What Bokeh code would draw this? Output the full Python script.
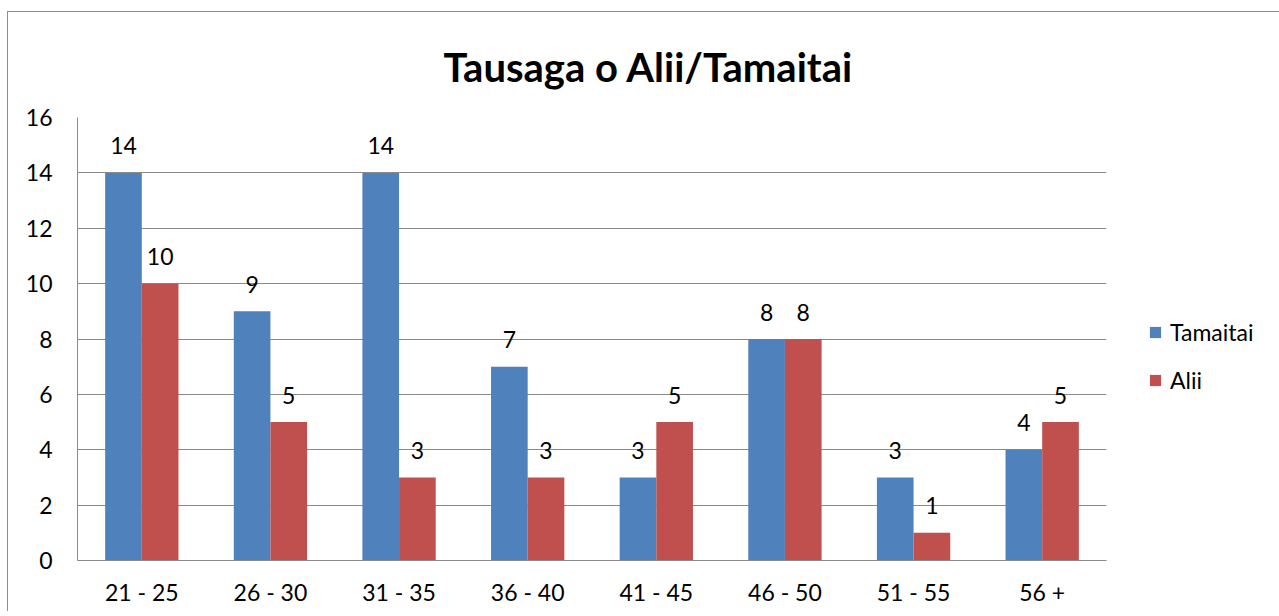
from bokeh.plotting import figure
from bokeh.models import (ColumnDataSource, FactorRange, Legend, LegendItem, LabelSet,
                          Range1d, FixedTicker)
from bokeh.core.properties import value
from bokeh.transform import dodge
from bokeh.embed import file_html
from bokeh.resources import INLINE

categories = ["21 - 25", "26 - 30", "31 - 35", "36 - 40", "41 - 45", "46 - 50", "51 - 55", "56 +"]
tamaitai = [14, 9, 14, 7, 3, 8, 3, 4]
alii = [10, 5, 3, 3, 5, 8, 1, 5]
series_names = ["Tamaitai", "Alii"]
series_colors = ["#4F81BD", "#C0504D"]
y_ticks = [0, 2, 4, 6, 8, 10, 12, 14, 16]
title_text = "Tausaga o Alii/Tamaitai"

FONT = "Lato"
GRID = "#8a8a8a"

source = ColumnDataSource(data=dict(
    cats=categories,
    tamaitai=tamaitai,
    alii=alii,
    tl=[str(v) for v in tamaitai],
    al=[str(v) for v in alii],
))

FW, FH = 1029, 443
p = figure(
    x_range=FactorRange(*categories, range_padding=0),
    y_range=Range1d(0, 16),
    frame_width=FW, frame_height=FH,
    min_border_left=69, min_border_right=168, min_border_top=105, min_border_bottom=52,
    output_backend="svg", toolbar_location=None,
    title=title_text,
    margin=(12, 0, 0, 8),
    styles={"box-shadow": "-1px -1px 0 0 #8c8c8c"},
)
p.outline_line_color = None

bw = 0.285
r1 = p.vbar(x=dodge("cats", -bw / 2, range=p.x_range), top="tamaitai", width=bw,
            source=source, fill_color=series_colors[0], line_color=None)
r2 = p.vbar(x=dodge("cats", bw / 2, range=p.x_range), top="alii", width=bw,
            source=source, fill_color=series_colors[1], line_color=None)

for col, top, off in (("tl", "tamaitai", -bw / 2), ("al", "alii", bw / 2)):
    lbl = LabelSet(x=dodge("cats", off, range=p.x_range), y=top, text=col, source=source,
                   text_align="center", text_baseline="middle", y_offset=27,
                   text_font=value(FONT), text_font_size="23px", text_color="black")
    p.add_layout(lbl)

# title
p.title.text_font = FONT
p.title.text_font_size = "40px"
p.title.text_font_style = "bold"
p.title.text_color = "black"
p.title.align = "left"
p.title.offset = 366
p.title.standoff = 54

# axes
p.yaxis.ticker = FixedTicker(ticks=y_ticks)
for ax in (p.xaxis[0], p.yaxis[0]):
    ax.axis_line_color = GRID
    ax.axis_line_width = 1
    ax.major_tick_line_color = None
    ax.minor_tick_line_color = None
    ax.major_label_text_font = FONT
    ax.major_label_text_font_size = "23px"
    ax.major_label_text_color = "black"
p.yaxis.major_label_standoff = 19
p.xaxis.major_label_standoff = 11
p.xgrid.grid_line_color = None
p.ygrid.grid_line_color = GRID
p.ygrid.grid_line_width = 1

legend = Legend(
    items=[LegendItem(label=series_names[0], renderers=[r1]),
           LegendItem(label=series_names[1], renderers=[r2])],
    location=(42, 166),
    glyph_width=14, glyph_height=14, label_height=28, spacing=20,
    label_standoff=8, padding=0, margin=0,
    label_text_font=FONT, label_text_font_size="23px", label_text_color="black",
    border_line_color=None, background_fill_alpha=0,
)
p.add_layout(legend, "right")

open("out.html", "w").write(file_html(p, INLINE))
